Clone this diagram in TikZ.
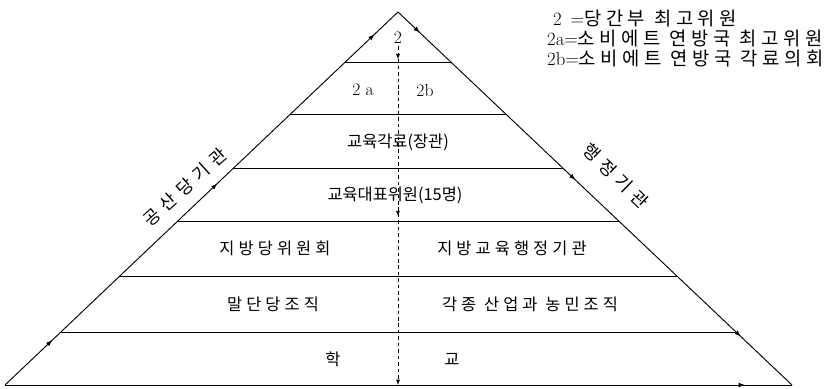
\documentclass[tikz,border=0pt]{standalone}
\usepackage{fontspec}
\newfontfamily\kr{Noto Sans CJK KR}
\newfontfamily\krs[LetterSpace=25]{Noto Sans CJK KR}
\newfontfamily\krw[LetterSpace=35]{Noto Sans CJK KR}
\usetikzlibrary{arrows,calc,decorations.markings}

\begin{document}
\begin{tikzpicture}[
    x=0.03cm, y=-0.03cm,
    >=latex,
    edge/.style={line width=0.8pt},
    level/.style={line width=0.7pt},
    axis/.style={line width=0.6pt, dash pattern=on 3pt off 2.5pt},
    lvltext/.style={font=\fontsize{14}{16}\selectfont\kr, inner sep=0pt},
    widetext/.style={font=\fontsize{14}{16}\selectfont\krs, inner sep=0pt},
    latin/.style={font=\fontsize{15}{17}\selectfont, inner sep=0pt},
    side/.style={font=\fontsize{15}{17}\selectfont\krw, inner sep=0pt},
    keyline/.style={font=\fontsize{16}{18}\selectfont, anchor=west, inner sep=0pt}
]
\useasboundingbox (0,0) rectangle (839,388);

%% ── Pyramid outline ──────────────────────────────────────────────
\coordinate (apex) at (398,12);
\coordinate (bl)   at (5,385);
\coordinate (br)   at (792,385);
\coordinate (cbot) at (398,385);

\draw[edge, postaction={decorate}, decoration={markings,
      mark=at position 0.12 with {\arrow{>}},
      mark=at position 0.54 with {\arrow{>}},
      mark=at position 0.94 with {\arrow{>}}}] (bl) -- (apex);
\draw[edge, postaction={decorate}, decoration={markings,
      mark=at position 0.055 with {\arrow{>}},
      mark=at position 0.45 with {\arrow{>}},
      mark=at position 0.87 with {\arrow{>}}}] (apex) -- (br);
\draw[edge, postaction={decorate}, decoration={markings,
      mark=at position 0.94 with {\arrow{>}}}] (bl) -- (br);

%% ── Level lines ──────────────────────────────────────────────────
\foreach \t in {0.135,0.275,0.420,0.561,0.709,0.860}
    \draw[level] ($(apex)!\t!(bl)$) -- ($(apex)!\t!(br)$);

%% ── Level labels ─────────────────────────────────────────────────
\node[latin]    (top)       at (398,38)  {2};
\node[latin]    (sov)       at (363,90)  {2 a};
\node[latin]    (cab)       at (425,90)  {2b};
\node[lvltext]  (minister)  at (398,142) {교육각료(장관)};
\node[lvltext]  (deleg)     at (395,195) {교육대표위원(15명)};
\node[widetext] (lparty)    at (275,248) {지방당위원회};
\node[widetext] (ladmin)    at (512,248) {지방교육행정기관};
\node[widetext] (bparty)    at (273,304) {말단당조직};
\node[widetext] (industry)  at (530,304) {각종 산업과 농민조직};
\node[widetext] (schoolA)   at (333,359) {학};
\node[widetext] (schoolB)   at (452,359) {교};

%% ── Centre axis ──────────────────────────────────────────────────
\draw[axis, ->, shorten <=2pt, postaction={decorate}, decoration={markings,
      mark=at position 0.045 with {\arrow[solid]{>}},
      mark=at position 0.505 with {\arrow[solid]{>}}}] (top.south) -- (cbot);

%% ── Side labels ──────────────────────────────────────────────────
\node[side, rotate=42]  (partyside) at (185,187) {공산당기관};
\node[side, rotate=-44] (adminside) at (616,176) {행정기관};

%% ── Key ──────────────────────────────────────────────────────────
\node[keyline] (key1) at (553,18) {2\ \,={\krs 당간부 최고위원}};
\node[keyline] (key2) at (547,38) {2a={\krs 소비에트 연방국 최고위원}};
\node[keyline] (key3) at (547,58) {2b={\krs 소비에트 연방국 각료의회}};

\end{tikzpicture}
\end{document}
